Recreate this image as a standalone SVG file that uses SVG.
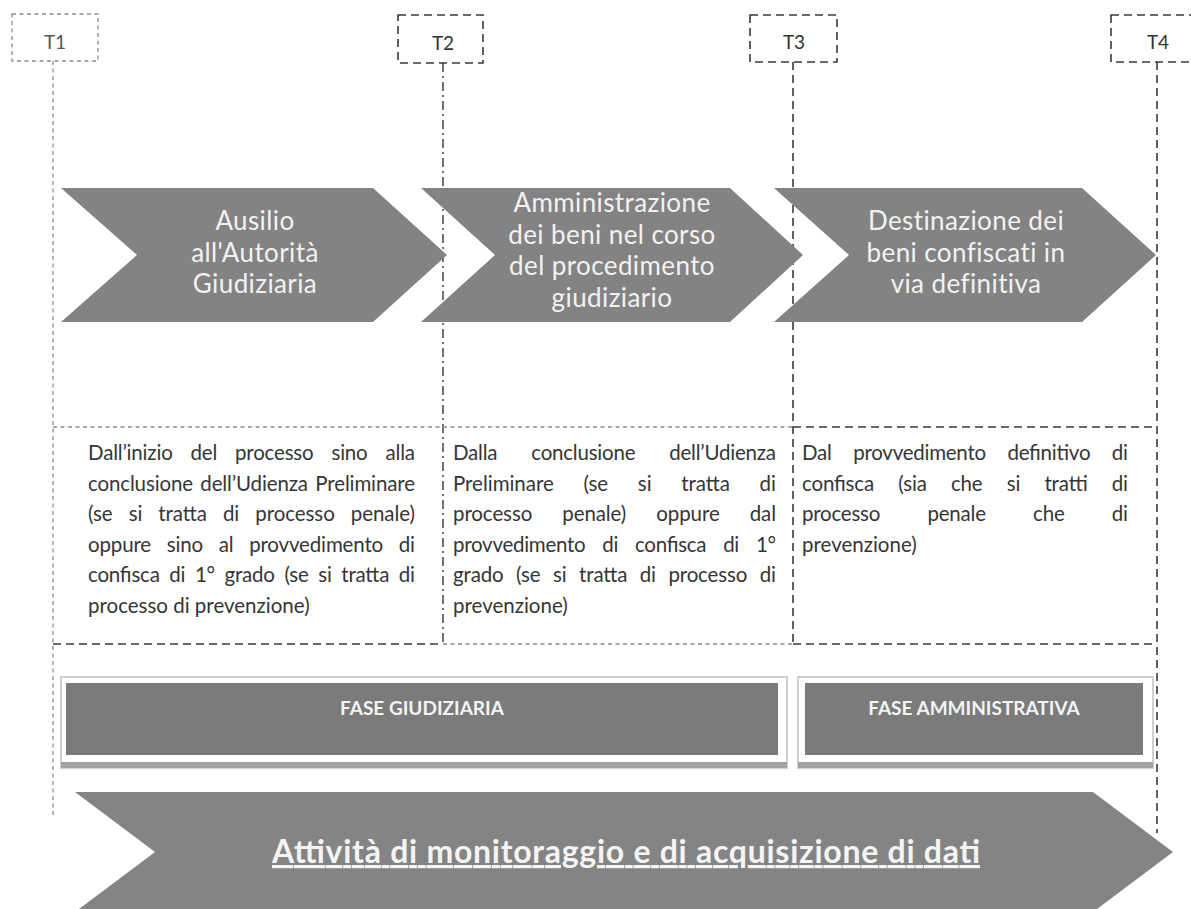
<svg xmlns="http://www.w3.org/2000/svg" width="1191" height="909" viewBox="0 0 1191 909">
<defs>
<style>
.lt{stroke:#8c8c8c;stroke-width:1.3;stroke-dasharray:4 3.5;fill:none}
.dk{stroke:#3a3a3a;stroke-width:1.6;stroke-dasharray:8 5;fill:none}
.dd{stroke:#444;stroke-width:1.5;stroke-dasharray:9 4 2 4;fill:none}
.tl{font-family:Lato,"Liberation Sans",sans-serif;font-size:19px;text-anchor:middle;fill:#333}
.chev{fill:#838383}
.ct{font-family:Lato,"Liberation Sans",sans-serif;font-size:26px;letter-spacing:0.4px;text-anchor:middle;fill:#f2f2f2}
.desc{font-family:Lato,"Liberation Sans",sans-serif;font-size:20.5px;fill:#363636}
.band{fill:#7b7b7b}
.frame{fill:none;stroke:#d0d0d0;stroke-width:2}
.shadow{fill:#a2a2a2}
.bt{font-family:Lato,"Liberation Sans",sans-serif;font-weight:bold;font-size:19px;fill:#f4f4f4;text-anchor:middle}
.big{fill:#848484}
.at{font-family:Lato,"Liberation Sans",sans-serif;font-weight:bold;font-size:32px;fill:#f4f4f4;text-anchor:middle;text-decoration:underline}
</style>
</defs>
<rect width="1191" height="909" fill="#ffffff"/>

<g id="connectors">
  <line class="lt" x1="53" y1="61" x2="53" y2="818"/>
  <line class="dd" x1="443" y1="63" x2="443" y2="644"/>
  <line class="dk" x1="793" y1="62" x2="793" y2="644"/>
  <line class="dk" x1="1157" y1="62" x2="1157" y2="833"/>
  <line class="lt" x1="53" y1="427" x2="793" y2="427"/>
  <line class="dk" x1="793" y1="427" x2="1155" y2="427"/>
  <line class="dk" x1="53" y1="644" x2="443" y2="644"/>
  <line class="lt" x1="443" y1="644" x2="793" y2="644"/>
  <line class="dk" x1="793" y1="644" x2="1155" y2="644"/>
</g>

<g id="T1">
  <rect class="lt" x="12" y="14" width="86" height="47"/>
  <text class="tl" x="55" y="49" style="fill:#555">T1</text>
</g>
<g id="T2">
  <rect class="dk" x="398" y="15" width="85" height="48"/>
  <text class="tl" x="443" y="50">T2</text>
</g>
<g id="T3">
  <rect class="dk" x="750" y="15" width="87" height="47"/>
  <text class="tl" x="794" y="49">T3</text>
</g>
<g id="T4">
  <rect class="dk" x="1111" y="15" width="100" height="47"/>
  <text class="tl" x="1158" y="49">T4</text>
</g>

<g id="chevron1">
  <polygon class="chev" points="61,188 373,188 447,255 373,322 61,322 137,255"/>
  <text class="ct"><tspan x="255" y="230">Ausilio</tspan><tspan x="255" y="261.5">all'Autorità</tspan><tspan x="255" y="293">Giudiziaria</tspan></text>
</g>
<g id="chevron2">
  <polygon class="chev" points="421,188 730,188 803,255 730,322 421,322 495,255"/>
  <text class="ct"><tspan x="612" y="212">Amministrazione</tspan><tspan x="612" y="243.5">dei beni nel corso</tspan><tspan x="612" y="275">del procedimento</tspan><tspan x="612" y="306.5">giudiziario</tspan></text>
</g>
<g id="chevron3">
  <polygon class="chev" points="774,188 1082,188 1156,255 1082,322 774,322 849,255"/>
  <text class="ct"><tspan x="966" y="230">Destinazione dei</tspan><tspan x="966" y="261.5">beni confiscati in</tspan><tspan x="966" y="293">via definitiva</tspan></text>
</g>

<g id="desc1" class="desc">
  <text x="88" y="460" word-spacing="12.9" textLength="327" lengthAdjust="spacing">Dall’inizio del processo sino alla</text>
  <text x="88" y="490.5" word-spacing="2.3" textLength="327" lengthAdjust="spacing">conclusione dell’Udienza Preliminare</text>
  <text x="88" y="521" word-spacing="10.8" textLength="327" lengthAdjust="spacing">(se si tratta di processo penale)</text>
  <text x="88" y="551.5" word-spacing="10.6" textLength="327" lengthAdjust="spacing">oppure sino al provvedimento di</text>
  <text x="88" y="582" word-spacing="4.6" textLength="327" lengthAdjust="spacing">confisca di 1° grado (se si tratta di</text>
  <text x="88" y="612.5">processo di prevenzione)</text>
</g>
<g id="desc2" class="desc">
  <text x="453" y="460" word-spacing="29" textLength="323" lengthAdjust="spacing">Dalla conclusione dell’Udienza</text>
  <text x="453" y="490.5" word-spacing="24.4" textLength="323" lengthAdjust="spacing">Preliminare (se si tratta di</text>
  <text x="453" y="521" word-spacing="24.9" textLength="323" lengthAdjust="spacing">processo penale) oppure dal</text>
  <text x="453" y="551.5" word-spacing="11.9" textLength="323" lengthAdjust="spacing">provvedimento di confisca di 1°</text>
  <text x="453" y="582" word-spacing="7.4" textLength="323" lengthAdjust="spacing">grado (se si tratta di processo di</text>
  <text x="453" y="612.5">prevenzione)</text>
</g>
<g id="desc3" class="desc">
  <text x="802" y="460" word-spacing="16.6" textLength="326" lengthAdjust="spacing">Dal provvedimento definitivo di</text>
  <text x="802" y="490.5" word-spacing="19.1" textLength="326" lengthAdjust="spacing">confisca (sia che si tratti di</text>
  <text x="802" y="521" word-spacing="42.3" textLength="326" lengthAdjust="spacing">processo penale che di</text>
  <text x="802" y="551.5">prevenzione)</text>
</g>

<g id="fase-giudiziaria">
  <rect class="frame" x="61" y="677" width="726" height="91"/>
  <rect class="shadow" x="61" y="762" width="726" height="6"/>
  <rect class="band" x="66" y="683" width="712" height="72"/>
  <text class="bt" x="422" y="715">FASE GIUDIZIARIA</text>
</g>
<g id="fase-amministrativa">
  <rect class="frame" x="798" y="677" width="355" height="91"/>
  <rect class="shadow" x="798" y="762" width="355" height="6"/>
  <rect class="band" x="805" y="683" width="338" height="72"/>
  <text class="bt" x="974" y="715">FASE AMMINISTRATIVA</text>
</g>

<g id="monitoraggio">
  <polygon class="big" points="75,792 1093,792 1173,852 1093,912 75,912 155,852"/>
  <text class="at" x="626" y="863" textLength="708" lengthAdjust="spacing">Attività di monitoraggio e di acquisizione di dati</text>
</g>
</svg>
